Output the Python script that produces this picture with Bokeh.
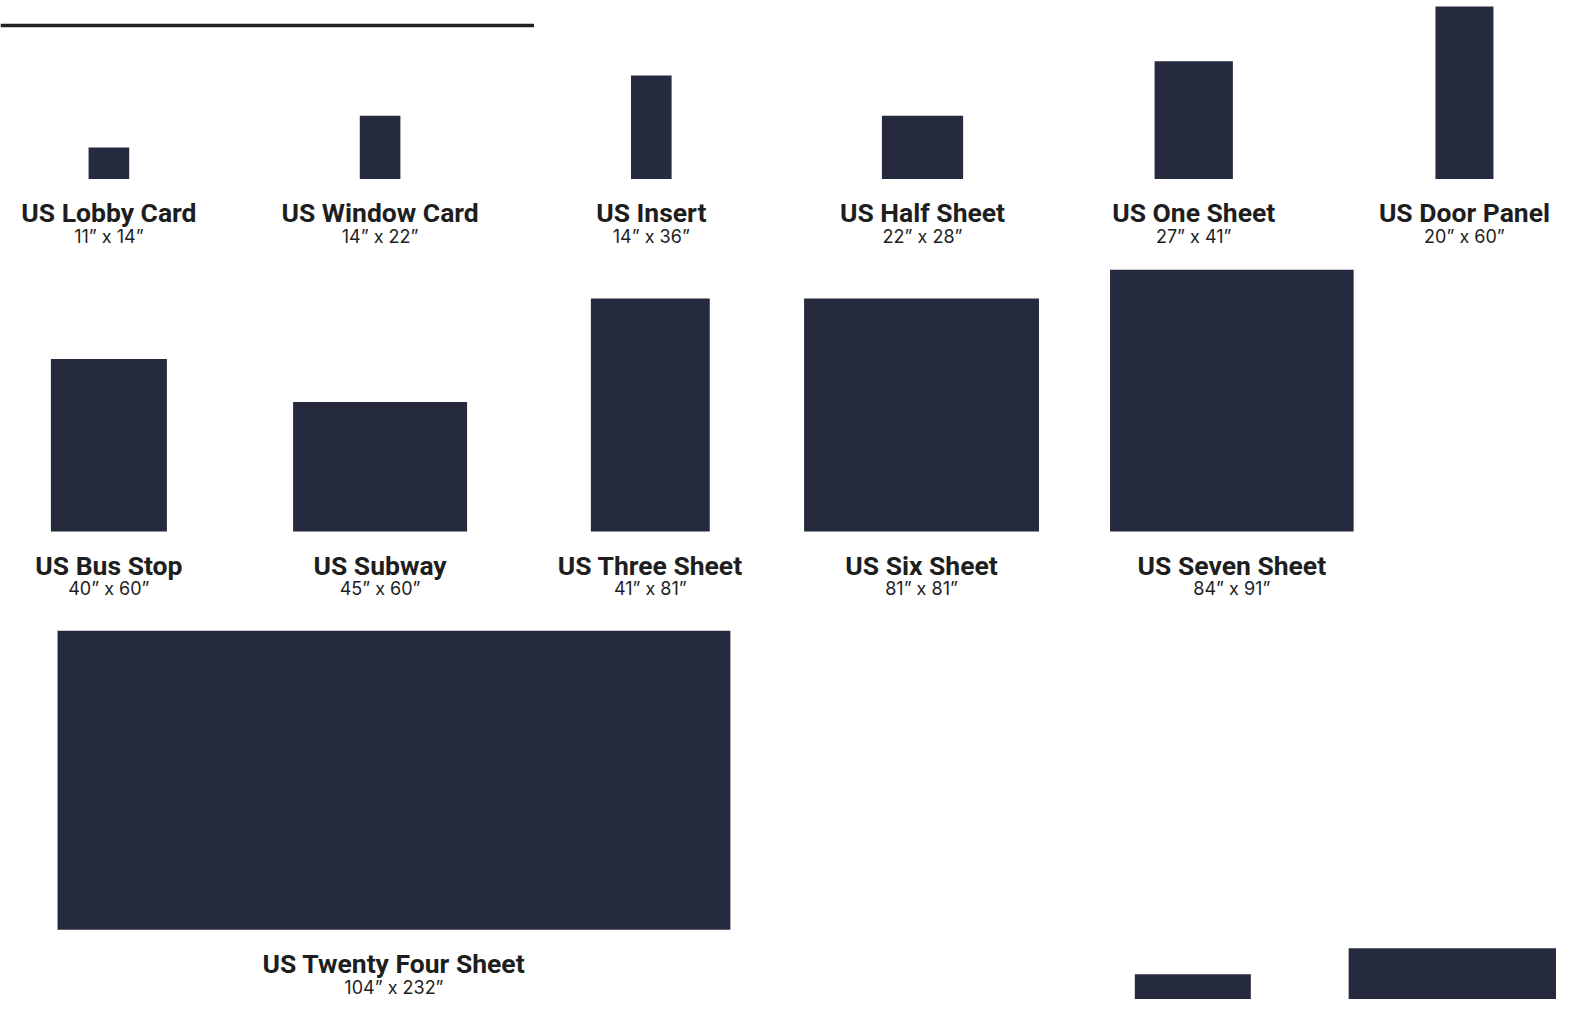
from bokeh.plotting import figure
from bokeh.models import Range1d, ColumnDataSource
from bokeh.core.properties import value
from bokeh.embed import file_html
from bokeh.resources import INLINE

# ---------------- DATA ----------------
names = ["US Lobby Card", "US Window Card", "US Insert", "US Half Sheet",
         "US One Sheet", "US Door Panel",
         "US Bus Stop", "US Subway", "US Three Sheet", "US Six Sheet",
         "US Seven Sheet",
         "US Twenty Four Sheet"]
dim_a = [11, 14, 14, 22, 27, 20, 40, 45, 41, 81, 84, 104]   # first number on label (inches)
dim_b = [14, 22, 36, 28, 41, 60, 60, 60, 81, 81, 91, 232]   # second number on label (inches)
landscape = [True, False, False, True, False, False,
             False, True, False, False, False, True]

# sheets of the next row, cut off at the bottom edge (labels not visible)
cut_w = [40, 80]
cut_h = [60, 69]

# ---------------- LAYOUT (page px of the original artwork) ----------------
S = 2.93                       # px per inch
row_base = [182, 541, 947]
rows = [0, 0, 0, 0, 0, 0, 1, 1, 1, 1, 1, 2]
centers = [109.5, 383.5, 657.5, 931.5, 1205.5, 1479.0,
           109.5, 383.5, 656.5, 930.5, 1244.0,
           397.5]
cut_base = 1168
cut_left = [1146, 1362]
PAGE_W, PAGE_H = 1572, 1018

W, H = 1556, 999
p = figure(width=W, height=H, output_backend="svg", toolbar_location=None,
           x_range=Range1d(0, PAGE_W / S),
           y_range=Range1d(PAGE_H / S, 0),
           min_border=0, border_fill_color="white", background_fill_color="white")
p.axis.visible = False
p.grid.visible = False
p.outline_line_color = None

# rectangles in inches
w_in = [b if ls else a for a, b, ls in zip(dim_a, dim_b, landscape)]
h_in = [a if ls else b for a, b, ls in zip(dim_a, dim_b, landscape)]
cx = [c / S for c in centers]
base = [row_base[r] / S for r in rows]
src = ColumnDataSource(dict(
    left=[c - w / 2 for c, w in zip(cx, w_in)],
    right=[c + w / 2 for c, w in zip(cx, w_in)],
    bottom=base,
    top=[b - h for b, h in zip(base, h_in)],
    name=names,
    dims=[f"{a}\u201d x {b}\u201d" for a, b in zip(dim_a, dim_b)],
    ny=[b + 34.5 / S for b in base],
    dy=[b + 58.5 / S for b in base],
    cx=cx,
))
color = "#252a3e"
p.quad(left="left", right="right", top="top", bottom="bottom", source=src,
       fill_color=color, line_color=None)

csrc = ColumnDataSource(dict(
    left=[l / S for l in cut_left],
    right=[l / S + w for l, w in zip(cut_left, cut_w)],
    bottom=[cut_base / S] * len(cut_w),
    top=[cut_base / S - h for h in cut_h],
))
p.quad(left="left", right="right", top="top", bottom="bottom", source=csrc,
       fill_color=color, line_color=None)

p.text(x="cx", y="ny", text="name", source=src, text_align="center",
       text_baseline="alphabetic", text_font=value("Roboto"),
       text_font_style="bold", text_font_size="26.5px", text_color="#1e1e1e")
p.text(x="cx", y="dy", text="dims", source=src, text_align="center",
       text_baseline="alphabetic", text_font=value("Inter"),
       text_font_size="18px", text_color="#1e1e1e")

# header rule
p.segment(x0=[0], y0=[25.5 / S], x1=[539 / S], y1=[25.5 / S],
          line_color="#222222", line_width=3.5)

open("out.html", "w").write(file_html(p, INLINE))
